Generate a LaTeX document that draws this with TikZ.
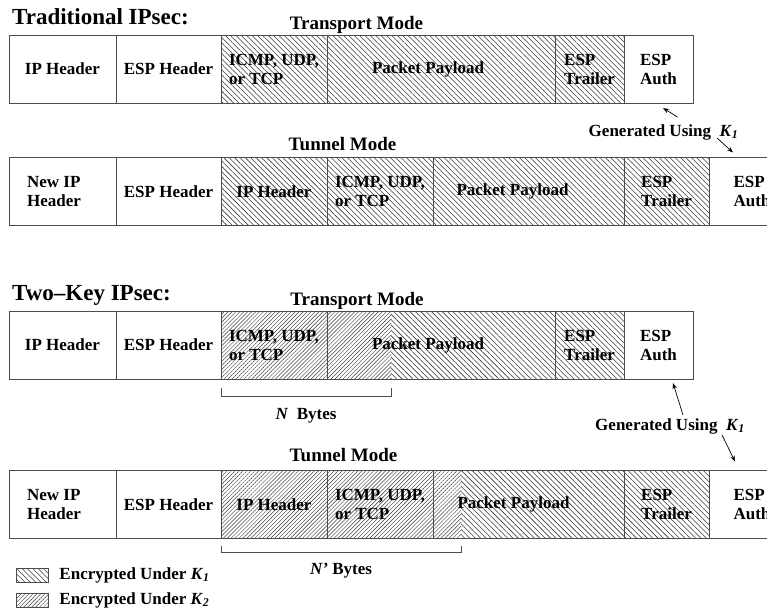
\documentclass[tikz,border=0pt]{standalone}
\usepackage{fontspec}
\setmainfont{Liberation Serif}
\usetikzlibrary{positioning,patterns.meta,backgrounds,arrows.meta}

\definecolor{edge}{gray}{0.3}
\definecolor{hatch}{gray}{0.22}
\newcommand{\keyone}{\textit{K}\textsubscript{\textit{1}}}
\newcommand{\keytwo}{\textit{K}\textsubscript{\textit{2}}}

\tikzset{
  cell/.style={draw=edge, line width=0.8pt, minimum height=68pt, inner sep=0pt, outer sep=0pt, align=left},
  kone/.style={pattern={Lines[angle=-45,distance=3.8pt,line width=0.55pt]}, pattern color=hatch},
  ktwo/.style={pattern={Lines[angle=45,distance=2.8pt,line width=0.45pt]}, pattern color=hatch},
  heading/.style={font=\bfseries\fontsize{23}{25}\selectfont, anchor=base west, inner sep=0pt},
  modehead/.style={font=\bfseries\fontsize{19}{21}\selectfont, anchor=base, inner sep=0pt},
  every label/.style={inner sep=0pt, align=left}
}

\begin{document}
\begin{tikzpicture}[x=1pt, y=-1pt, font=\bfseries\fontsize{17}{19}\selectfont, >={Stealth[length=6pt,width=4.5pt]}]
\useasboundingbox (0,0) rectangle (767,611);
\clip (0,0) rectangle (767,611);

% traditional, transport mode
\node [heading] (trad) at (12,24) {Traditional IPsec:};
\node [modehead] (tp1) at (356.5,29) {Transport Mode};
\node [cell, minimum width=107pt] (ip1) at (62.5,69) {IP Header};
\node [cell, minimum width=105pt, right=0pt of ip1] (esp1) {ESP Header};
\node [cell, minimum width=106pt, right=0pt of esp1] (icmp1) {ICMP, UDP,\\or TCP};
\node [cell, minimum width=228pt, right=0pt of icmp1, label={[name=pl1, xshift=-13pt]center:Packet Payload}] (pay1) {};
\node [cell, minimum width=69pt, right=0pt of pay1] (trl1) {ESP\\Trailer};
\node [cell, minimum width=69pt, right=0pt of trl1] (auth1) {ESP\\Auth};

% traditional, tunnel mode
\node [modehead] (tn2) at (342.5,150) {Tunnel Mode};
\node [cell, minimum width=107pt, label={[name=nl2, xshift=-8.5pt]center:New IP\\Header}] (nip2) at (62.5,191.5) {};
\node [cell, minimum width=105pt, right=0pt of nip2] (esp2) {ESP Header};
\node [cell, minimum width=106pt, right=0pt of esp2] (iph2) {IP Header};
\node [cell, minimum width=106pt, right=0pt of iph2] (icmp2) {ICMP, UDP,\\or TCP};
\node [cell, minimum width=191pt, right=0pt of icmp2, label={[name=pl2, xshift=-16pt]center:Packet Payload}] (pay2) {};
\node [cell, minimum width=85pt, right=0pt of pay2] (trl2) {ESP\\Trailer};
\node [cell, minimum width=86pt, right=0pt of trl2] (auth2) {ESP\\Auth};

\node [anchor=base, inner sep=0pt] (gen1) at (663.5,136) {Generated Using\enspace\keyone};
\draw [->, line width=0.7pt] ([xshift=14pt,yshift=7pt]gen1.north) -- ([xshift=4.5pt,yshift=-5pt]auth1.south);
\draw [->, line width=0.7pt] ([xshift=53.5pt,yshift=2pt]gen1.south) -- ([xshift=24pt,yshift=5pt]auth2.north west);

% two-key, transport mode
\node [heading] (twokey) at (12,300) {Two--Key IPsec:};
\node [modehead] (tp3) at (357,305) {Transport Mode};
\node [cell, minimum width=107pt] (ip3) at (62.5,345) {IP Header};
\node [cell, minimum width=105pt, right=0pt of ip3] (esp3) {ESP Header};
\node [cell, minimum width=106pt, right=0pt of esp3] (icmp3) {ICMP, UDP,\\or TCP};
\node [cell, minimum width=228pt, right=0pt of icmp3, label={[name=pl3, xshift=-13pt]center:Packet Payload}] (pay3) {};
\node [cell, minimum width=69pt, right=0pt of pay3] (trl3) {ESP\\Trailer};
\node [cell, minimum width=69pt, right=0pt of trl3] (auth3) {ESP\\Auth};

\draw [edge, line width=0.8pt] ([yshift=-9pt]icmp3.south west) -- ++(0,8) -- ++(170,0) -- ++(0,-8);
\node [anchor=base] (nb3) at (306,419) {\textit{N}\enspace Bytes};

% two-key, tunnel mode
\node [modehead] (tn4) at (343.5,461) {Tunnel Mode};
\node [cell, minimum width=107pt, label={[name=nl4, xshift=-8.5pt]center:New IP\\Header}] (nip4) at (62.5,504.5) {};
\node [cell, minimum width=105pt, right=0pt of nip4] (esp4) {ESP Header};
\node [cell, minimum width=106pt, right=0pt of esp4] (iph4) {IP Header};
\node [cell, minimum width=106pt, right=0pt of iph4] (icmp4) {ICMP, UDP,\\or TCP};
\node [cell, minimum width=191pt, right=0pt of icmp4, label={[name=pl4, xshift=-15pt]center:Packet Payload}] (pay4) {};
\node [cell, minimum width=85pt, right=0pt of pay4] (trl4) {ESP\\Trailer};
\node [cell, minimum width=86pt, right=0pt of trl4] (auth4) {ESP\\Auth};

\draw [edge, line width=0.8pt] ([yshift=-7pt]iph4.south west) -- ++(0,7) -- ++(240,0) -- ++(0,-7);
\node [anchor=base] (nb4) at (341,574) {\textit{N'} Bytes};

\node [anchor=base, inner sep=0pt] (gen2) at (670,430) {Generated Using\enspace\keyone};
\draw [->, line width=0.7pt] ([xshift=13pt,yshift=3pt]gen2.north) -- ([xshift=14.5pt,yshift=-4pt]auth3.south);
\draw [->, line width=0.7pt] ([xshift=52pt,yshift=-1pt]gen2.south) -- ([xshift=26pt,yshift=9pt]auth4.north west);

% legend
\node [draw=edge, kone, minimum width=32pt, minimum height=14pt, inner sep=0pt] (lg1) at (32,575) {};
\node [right=11pt of lg1, inner sep=0pt] (lt1) {Encrypted Under \keyone};
\node [draw=edge, ktwo, minimum width=32pt, minimum height=14pt, inner sep=0pt] (lg2) at (32,600) {};
\node [right=11pt of lg2, inner sep=0pt] (lt2) {Encrypted Under \keytwo};

% encrypted parts, under the cell borders
\begin{scope}[on background layer]
\fill [kone] (icmp1.north west) rectangle (trl1.south east);
\fill [kone] (iph2.north west) rectangle (trl2.south east);
\fill [ktwo] (icmp3.north west) rectangle ([xshift=64pt]pay3.south west);
\fill [kone] ([xshift=64pt]pay3.north west) rectangle (trl3.south east);
\fill [ktwo] (iph4.north west) rectangle ([xshift=28pt]pay4.south west);
\fill [kone] ([xshift=28pt]pay4.north west) rectangle (trl4.south east);
\end{scope}
\end{tikzpicture}
\end{document}
